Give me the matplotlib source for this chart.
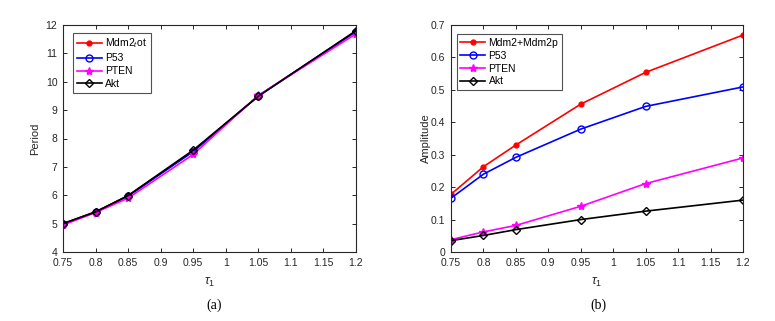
import matplotlib
matplotlib.use("Agg")
import matplotlib.pyplot as plt

tau = [0.75, 0.8, 0.85, 0.95, 1.05, 1.2]

period_mdm2 = [5.0, 5.42, 5.98, 7.56, 9.50, 11.78]
period_p53 = [4.99, 5.41, 5.97, 7.54, 9.50, 11.77]
period_pten = [4.95, 5.39, 5.90, 7.44, 9.52, 11.69]
period_akt = [5.0, 5.41, 5.99, 7.59, 9.49, 11.80]

amp_mdm2 = [0.178, 0.263, 0.330, 0.456, 0.554, 0.669]
amp_p53 = [0.166, 0.240, 0.292, 0.379, 0.449, 0.509]
amp_pten = [0.038, 0.062, 0.082, 0.141, 0.211, 0.290]
amp_akt = [0.035, 0.051, 0.069, 0.100, 0.126, 0.160]

xticks = [0.75, 0.8, 0.85, 0.9, 0.95, 1, 1.05, 1.1, 1.15, 1.2]
xticklabels = ["0.75", "0.8", "0.85", "0.9", "0.95", "1", "1.05", "1.1", "1.15", "1.2"]

plt.rcParams['font.family'] = ['Liberation Sans', 'DejaVu Sans']
plt.rcParams['mathtext.fontset'] = 'custom'
plt.rcParams['mathtext.rm'] = 'Liberation Sans'
plt.rcParams['mathtext.it'] = 'Liberation Sans:italic'

fig = plt.figure(figsize=(7.75, 3.21), dpi=100)
ax1 = fig.add_axes([63/775, 69/321, 293/775, 227/321])
ax2 = fig.add_axes([451/775, 69/321, 292/775, 227/321])

lw = 1.2
ms = 5

def style(ax):
    ax.set_xlim(0.75, 1.2)
    ax.set_xticks(xticks)
    ax.set_xticklabels(xticklabels)
    ax.tick_params(direction='in', top=True, right=True, labelsize=7.5, length=3, width=0.7, colors='#262626')
    ax.tick_params(axis='x', pad=4)
    ax.tick_params(axis='y', pad=4)
    for s in ax.spines.values():
        s.set_linewidth(0.8)
        s.set_color('#262626')
    ax.set_xlabel(r'$\tau_1$', fontsize=9, color='#262626', labelpad=6)

def legend(ax, anchor):
    leg = ax.legend(loc='upper left', bbox_to_anchor=anchor, fontsize=7.5, frameon=True,
                    fancybox=False, edgecolor='#262626', handlelength=2.4, handletextpad=0.3,
                    borderpad=0.35, labelspacing=0.28, borderaxespad=0)
    leg.get_frame().set_linewidth(0.8)

ax1.plot(tau, period_mdm2, '-', color='#ff0000', marker='o', ms=3.5, lw=lw, label='Mdm2$_{t}$ot')
ax1.plot(tau, period_p53, '-', color='#0000ff', marker='o', mfc='none', ms=ms, lw=lw, label='P53')
ax1.plot(tau, period_pten, '-', color='#ff00ff', marker='*', ms=6, lw=lw, label='PTEN')
ax1.plot(tau, period_akt, '-', color='#000000', marker='D', mfc='none', ms=4, lw=lw, label='Akt')
style(ax1)
ax1.set_ylim(4, 12)
ax1.set_yticks(range(4, 13))
ax1.set_ylabel('Period', fontsize=8, color='#262626')
ax1.yaxis.set_label_coords(-0.078, 0.5)
legend(ax1, (0.035, 0.965))

ax2.plot(tau, amp_mdm2, '-', color='#ff0000', marker='o', ms=3.5, lw=lw, label='Mdm2+Mdm2p')
ax2.plot(tau, amp_p53, '-', color='#0000ff', marker='o', mfc='none', ms=ms, lw=lw, label='P53')
ax2.plot(tau, amp_pten, '-', color='#ff00ff', marker='*', ms=6, lw=lw, label='PTEN')
ax2.plot(tau, amp_akt, '-', color='#000000', marker='D', mfc='none', ms=4, lw=lw, label='Akt')
style(ax2)
ax2.set_ylim(0, 0.7)
ax2.set_yticks([0, 0.1, 0.2, 0.3, 0.4, 0.5, 0.6, 0.7])
ax2.set_yticklabels(["0", "0.1", "0.2", "0.3", "0.4", "0.5", "0.6", "0.7"])
ax2.set_ylabel('Amplitude', fontsize=8, color='#262626')
ax2.yaxis.set_label_coords(-0.068, 0.5)
legend(ax2, (0.02, 0.96))

fig.text(214/775, 16/321, '(a)', ha='center', va='center', fontsize=10, family='Liberation Serif')
fig.text(598/775, 16/321, '(b)', ha='center', va='center', fontsize=10, family='Liberation Serif')

fig.savefig('out.png', dpi=100)
